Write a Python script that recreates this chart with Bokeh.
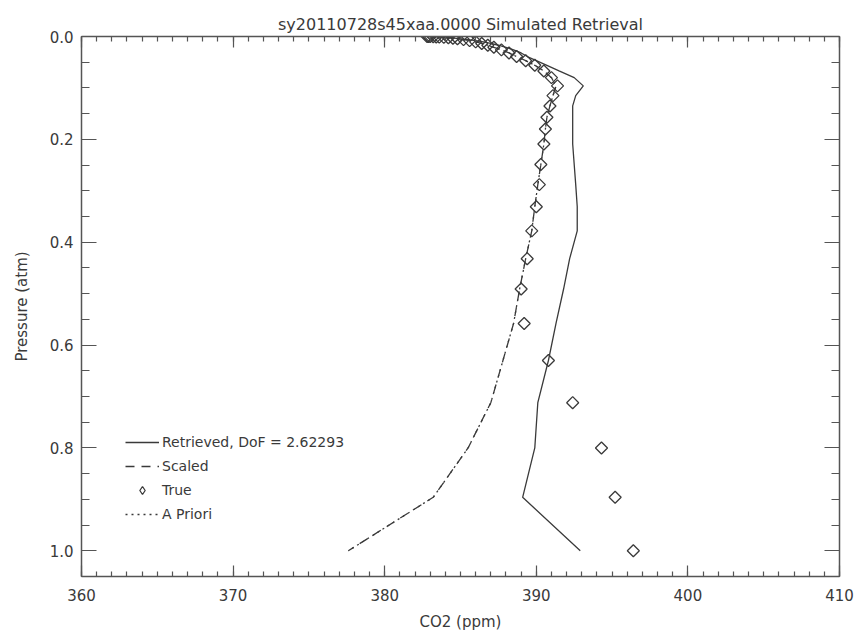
import numpy as np
from bokeh.plotting import figure
from bokeh.models import (Range1d, LinearAxis, FixedTicker, PrintfTickFormatter,
                          Legend, LegendItem, CustomJSTickFormatter)
from bokeh.embed import file_html
from bokeh.resources import INLINE

# ---------------- data ----------------
pressure = [0.0001, 0.0002, 0.0003, 0.0005, 0.0008, 0.0012, 0.0017, 0.0024, 0.0033, 0.0045, 0.006,
            0.008, 0.0105, 0.0135, 0.017, 0.021, 0.026, 0.032, 0.039, 0.047, 0.056,
            0.067, 0.080, 0.096, 0.115, 0.135, 0.157, 0.180, 0.209, 0.249, 0.288,
            0.331, 0.378, 0.432, 0.491, 0.558, 0.630, 0.712, 0.800, 0.896, 1.000]

true_ppm = [382.8, 382.9, 383.0, 383.2, 383.4, 383.6, 383.9, 384.2, 384.5, 384.8, 385.2,
            385.6, 386.0, 386.4, 386.8, 387.2, 387.7, 388.2, 388.7, 389.3, 389.9,
            390.5, 391.0, 391.4, 391.1, 390.9, 390.7, 390.6, 390.5, 390.3, 390.2,
            390.0, 389.7, 389.4, 389.0, 389.2, 390.8, 392.4, 394.3, 395.2, 396.4]

retrieved_ppm = [382.9, 383.0, 383.1, 383.3, 383.5, 383.7, 384.0, 384.3, 384.6, 385.0, 385.5,
                 386.0, 386.5, 387.0, 387.5, 388.0, 388.5, 389.0, 389.4, 390.0, 390.7,
                 391.5, 392.5, 393.1, 392.6, 392.4, 392.4, 392.4, 392.4, 392.5, 392.6,
                 392.7, 392.7, 392.2, 391.8, 391.3, 390.8, 390.1, 389.9, 389.1, 392.9]

apriori_ppm = [382.8, 382.9, 383.0, 383.2, 383.4, 383.6, 383.9, 384.2, 384.5, 384.8, 385.2,
               385.6, 386.0, 386.4, 386.8, 387.2, 387.7, 388.2, 388.7, 389.3, 389.9,
               390.5, 391.0, 391.3, 391.1, 390.9, 390.7, 390.6, 390.5, 390.3, 390.1,
               389.9, 389.7, 389.3, 388.9, 388.5, 387.8, 387.0, 385.5, 383.2, 377.6]

scaled_ppm = list(apriori_ppm)

x_ticks = [360, 370, 380, 390, 400, 410]
y_ticks = [0.0, 0.2, 0.4, 0.6, 0.8, 1.0]

title_text = "sy20110728s45xaa.0000 Simulated Retrieval"
dof_label = "Retrieved, DoF = 2.62293"

# ---------------- figure ----------------
INK = "#3a3a3a"
FONT = "DejaVu Sans"

p = figure(width=858, height=635, output_backend="svg", toolbar_location=None,
           x_range=Range1d(360, 410), y_range=Range1d(1.05, 0.0),
           min_border_left=81, min_border_right=19, min_border_top=36, min_border_bottom=59,
           title=title_text)
p.title.align = "center"
p.title.text_font = FONT
p.title.text_font_size = "16px"
p.title.text_font_style = "normal"
p.title.text_color = INK
p.title.offset = 0
p.title.standoff = 6
p.xgrid.visible = False
p.ygrid.visible = False
p.outline_line_color = None
p.background_fill_color = "white"
p.border_fill_color = "white"

x_minor = list(range(360, 411))
y_minor = [round(0.05 * i, 2) for i in range(0, 22)]


def style_axis(ax, major_in, minor_in):
    ax.axis_line_color = "#555555"
    ax.axis_line_width = 1.5
    ax.major_tick_line_color = "#555555"
    ax.minor_tick_line_color = "#555555"
    ax.major_tick_line_width = 1.2
    ax.minor_tick_line_width = 1.2
    ax.major_tick_in = major_in
    ax.major_tick_out = 0
    ax.minor_tick_in = minor_in
    ax.minor_tick_out = 0
    ax.major_label_text_font = FONT
    ax.major_label_text_font_size = "15px"
    ax.major_label_text_color = INK
    ax.axis_label_text_font = FONT
    ax.axis_label_text_font_size = "15px"
    ax.axis_label_text_font_style = "normal"
    ax.axis_label_text_color = INK


xax = p.xaxis[0]
xax.ticker = FixedTicker(ticks=x_ticks, minor_ticks=x_minor)
xax.axis_label = "CO2 (ppm)"
style_axis(xax, 11, 5)
xax.major_label_standoff = 12
xax.axis_label_standoff = 9

yax = p.yaxis[0]
yax.ticker = FixedTicker(ticks=y_ticks, minor_ticks=y_minor)
yax.formatter = PrintfTickFormatter(format="%.1f")
yax.axis_label = "Pressure (atm)"
style_axis(yax, 15, 8)
yax.major_label_standoff = 8
yax.axis_label_standoff = 16

blank = CustomJSTickFormatter(code="return ''")
top = LinearAxis(ticker=FixedTicker(ticks=x_ticks, minor_ticks=x_minor), formatter=blank)
style_axis(top, 11, 5)
top.major_label_text_font_size = "1px"
p.add_layout(top, "above")
right = LinearAxis(ticker=FixedTicker(ticks=y_ticks, minor_ticks=y_minor), formatter=blank)
style_axis(right, 15, 8)
right.major_label_text_font_size = "1px"
p.add_layout(right, "right")

# ---------------- series ----------------
r_ret = p.line(retrieved_ppm, pressure, line_color=INK, line_width=1.3)
r_scl = p.line(scaled_ppm, pressure, line_color=INK, line_width=1.3, line_dash="9 7")
r_true = p.scatter(true_ppm, pressure, marker="square", angle=np.pi / 4, size=8.5,
                   fill_color=None, line_color=INK, line_width=1.3)
r_apr = p.line(apriori_ppm, pressure, line_color=INK, line_width=1.3, line_dash="2 4",
               line_dash_offset=12)
# hidden twin of the diamonds, used only as the legend swatch
# (legend glyphs ignore the marker angle)
r_true_key = p.scatter(true_ppm, pressure, marker="diamond", size=15, visible=False,
                       fill_color=None, line_color=INK, line_width=1.3)

legend = Legend(items=[LegendItem(label=dof_label, renderers=[r_ret]),
                       LegendItem(label="Scaled", renderers=[r_scl]),
                       LegendItem(label="True", renderers=[r_true_key]),
                       LegendItem(label="A Priori", renderers=[r_apr])],
                location=(40, 48), orientation="vertical",
                background_fill_alpha=0, border_line_alpha=0, inactive_fill_alpha=0,
                label_text_font=FONT, label_text_font_size="14px", label_text_color=INK,
                glyph_width=34, glyph_height=20, label_height=20, spacing=4,
                label_standoff=3, padding=4, margin=0)
p.add_layout(legend, "center")

open("out.html", "w").write(file_html(p, INLINE))
